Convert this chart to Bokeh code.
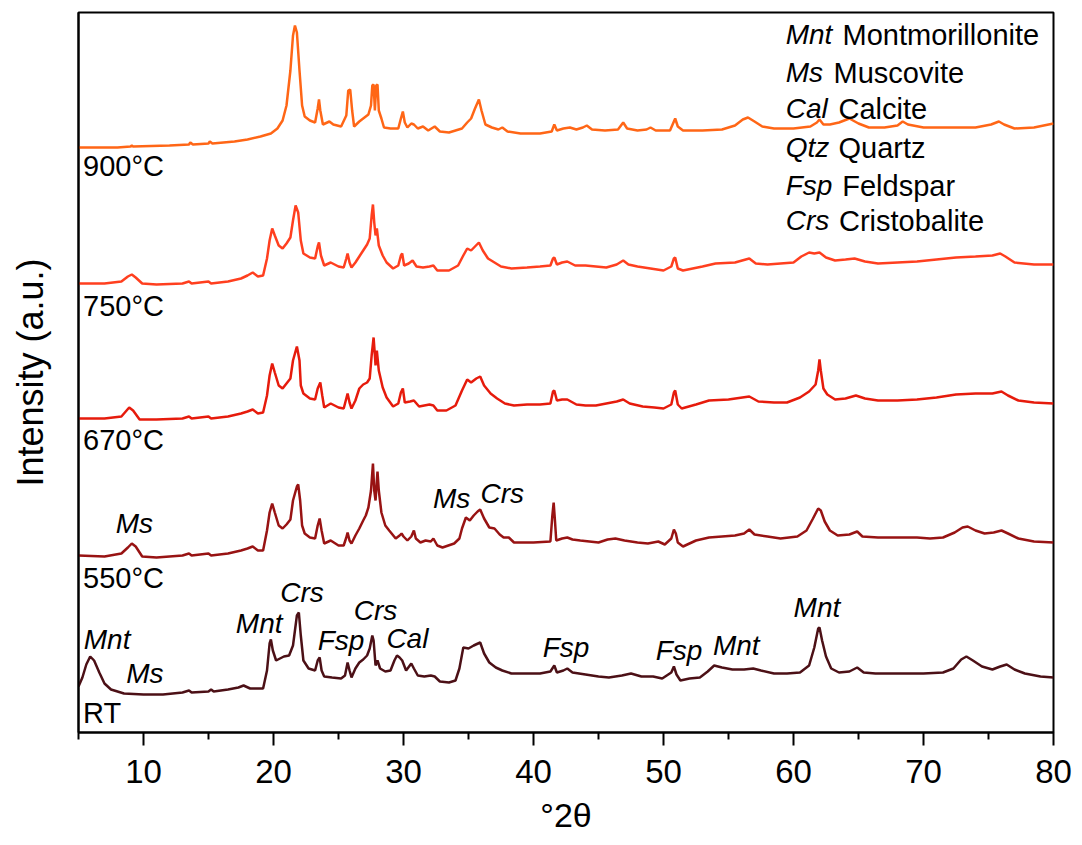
from bokeh.plotting import figure
from bokeh.models import Range1d, FixedTicker, Label
from bokeh.embed import file_html
from bokeh.resources import INLINE

# ---------------- data: (2theta, intensity a.u.) per sample ----------------
pattern_900 = [(5.0,3),(8.0,3),(9.0,4),(9.1,5),(9.2,4),(12,5),(13.5,6),(13.6,8),(13.8,6),(15.0,7),(15.1,9),(15.3,7),
 (17,9),(18,11),(19,14),(19.8,17),(20.3,22),(20.7,30),(21.0,45),(21.3,80),(21.5,115),(21.65,125),(21.8,118),(22.0,80),
 (22.2,45),(22.4,34),(22.8,30),(23.2,28),(23.4,42),(23.5,51),(23.6,40),(23.8,26),(24.3,29),(24.6,26),(25.2,24),(25.6,35),
 (25.75,60),(25.9,61),(26.05,40),(26.2,24),(26.6,29),(27.0,33),(27.3,36),(27.5,45),(27.6,65),(27.7,66),(27.8,40),(27.9,65),
 (28.0,66),(28.1,40),(28.3,32),(28.5,23),(29.0,22),(29.6,22),(29.8,32),(29.95,39),(30.1,28),(30.3,23),(30.6,27),(30.8,26),
 (31.1,22),(31.5,24),(31.9,20),(32.4,24),(32.8,19),(33.5,18),(34.5,22),(34.9,28),(35.2,32),(35.5,42),(35.8,51),(36.0,40),
 (36.3,26),(36.8,23),(37.3,21),(37.6,23),(38.0,19),(39.0,17),(40.5,17),(41.4,19),(41.6,26),(41.8,20),(42.3,22),(42.8,23),
 (43.3,21),(43.8,23),(44.1,25),(44.5,21),(45.5,20),(46.5,21),(46.9,28),(47.2,22),(48,20),(48.7,21),(49.0,23),(49.4,20),
 (50.5,20),(50.8,29),(50.9,32),(51.1,24),(51.5,20),(53,20),(54.5,21),(55.5,25),(56.1,31),(56.5,33),(57.0,29),(57.6,24),
 (58.5,22),(60,22),(61.3,24),(61.8,28),(62.0,31),(62.3,26),(62.8,26),(63.5,28),(64.3,32),(65.0,27),(65.8,23),(67,23),
 (68.0,25),(68.4,29),(68.8,26),(70,23),(72,23),(74,23),(75.2,26),(75.8,29),(76.2,26),(77,22),(78.5,23),(80,27)]

pattern_750 = [(5.0,2),(7,2),(8.3,4),(8.8,9),(9.1,11),(9.4,8),(9.9,2),(11,1),(13,2),(13.5,4),(13.7,2),(15.0,4),(15.2,2),
 (16.5,4),(17.5,7),(18.0,10),(18.4,13),(18.8,9),(19.2,10),(19.5,27),(19.7,45),(19.9,57),(20.1,50),(20.4,40),(20.7,37),
 (21.0,42),(21.3,48),(21.5,65),(21.7,80),(21.9,73),(22.1,45),(22.3,32),(22.8,28),(23.2,27),(23.4,39),(23.5,43),(23.65,30),
 (23.9,20),(24.4,23),(25.0,19),(25.4,18),(25.6,27),(25.7,32),(25.85,23),(26.0,18),(26.3,23),(26.6,29),(26.9,35),(27.2,41),
 (27.4,47),(27.55,70),(27.65,81),(27.75,63),(27.85,50),(27.95,57),(28.1,40),(28.4,30),(28.7,23),(29.2,17),(29.6,20),
 (29.8,30),(29.9,32),(30.05,20),(30.4,22),(30.7,25),(31.0,19),(31.5,18),(32.0,19),(32.3,20),(32.6,15),(33.5,15),(34.2,20),
 (34.6,30),(34.9,37),(35.2,35),(35.5,39),(35.8,43),(36.1,35),(36.5,27),(37.0,23),(37.5,19),(38.3,17),(39.5,18),(40.5,19),
 (41.3,20),(41.5,27),(41.6,28),(41.8,21),(42.2,23),(42.6,24),(43.2,20),(44.0,20),(44.8,19),(45.6,18),(46.4,21),(46.9,25),
 (47.3,21),(48.0,19),(49.0,17),(50.0,15),(50.6,19),(50.8,27),(50.9,28),(51.1,17),(51.5,15),(53.0,19),(54.0,22),(55.5,23),
 (56.6,27),(57.1,22),(58.0,21),(59.0,22),(60.0,23),(60.6,29),(61.2,33),(61.6,32),(62.0,33),(62.5,28),(63.2,25),(64.0,26),
 (64.7,27),(65.5,24),(66.5,22),(68,23),(69.5,24),(71,26),(72.5,28),(74,29),(75.3,30),(75.9,32),(76.3,29),(77,23),(78.5,21),(80,21)]

pattern_670 = [(5.0,2),(7,2),(8.3,4),(8.7,10),(8.9,13),(9.2,10),(9.7,1),(11,1),(13,2),(13.5,4),(13.7,2),(15.0,4),(15.2,2),
 (16.5,4),(17.5,7),(18.0,9),(18.4,11),(18.8,7),(19.2,8),(19.5,25),(19.7,45),(19.9,57),(20.1,48),(20.4,35),(20.7,32),
 (21.0,37),(21.3,42),(21.5,60),(21.8,74),(22.0,60),(22.1,35),(22.3,27),(22.8,22),(23.2,21),(23.4,32),(23.6,38),(23.75,25),
 (23.9,13),(24.4,17),(25.0,13),(25.4,12),(25.6,22),(25.7,27),(25.85,18),(26.0,12),(26.3,20),(26.6,32),(26.9,36),(27.2,38),
 (27.4,42),(27.55,65),(27.7,83),(27.8,65),(27.85,55),(27.95,70),(28.1,50),(28.4,33),(28.7,23),(29.2,14),(29.6,17),
 (29.8,28),(29.95,32),(30.1,18),(30.5,19),(30.8,20),(31.2,14),(31.6,15),(32.0,16),(32.3,15),(32.6,10),(33.3,10),(34.0,15),
 (34.5,30),(34.9,41),(35.2,38),(35.6,42),(35.9,44),(36.2,35),(36.7,27),(37.2,22),(37.8,17),(38.5,15),(39.5,16),(40.5,16),
 (41.3,17),(41.5,29),(41.6,30),(41.8,20),(42.2,21),(42.6,21),(43.3,16),(44.0,15),(44.8,15),(45.6,17),(46.4,19),(46.9,21),
 (47.4,17),(48.4,14),(49.3,13),(50.0,12),(50.6,16),(50.8,28),(50.9,30),(51.1,16),(51.4,12),(52.5,16),(53.5,20),(55.0,21),
 (56.6,24),(57.3,19),(58.5,18),(59.5,18),(60.5,23),(61.2,29),(61.7,36),(61.9,50),(62.0,61),(62.1,50),(62.3,32),(62.6,26),
 (63.2,21),(64.0,22),(64.8,25),(65.5,22),(66.5,20),(68,20),(69.5,21),(71,23),(72.5,26),(74,27),(75.3,27),(76.0,29),
 (76.5,25),(77.3,20),(78.5,18),(80,17)]

pattern_550 = [(5.0,3),(7,2),(8.3,5),(8.8,11),(9.1,15),(9.4,12),(9.9,2),(11,1),(13,3),(13.5,5),(13.7,3),(15.0,5),(15.2,3),
 (16.5,5),(17.5,8),(18.0,10),(18.4,12),(18.8,8),(19.2,8),(19.5,28),(19.7,46),(19.9,55),(20.1,46),(20.4,33),(20.7,30),
 (21.0,34),(21.3,39),(21.5,58),(21.8,72),(21.9,74),(22.05,58),(22.2,33),(22.4,25),(22.8,21),(23.2,20),(23.4,33),(23.55,40),
 (23.7,28),(23.9,15),(24.4,18),(25.0,13),(25.4,13),(25.6,21),(25.7,26),(25.85,18),(26.0,15),(26.3,23),(26.6,30),(26.9,38),
 (27.1,43),(27.3,51),(27.5,68),(27.65,95),(27.75,68),(27.85,58),(27.95,78),(28.0,87),(28.1,68),(28.3,46),(28.6,33),
 (28.9,28),(29.4,20),(29.7,23),(29.85,25),(30.0,22),(30.3,18),(30.6,22),(30.8,28),(30.95,20),(31.3,16),(31.7,18),(32.1,17),
 (32.3,20),(32.6,13),(33.0,11),(33.9,15),(34.3,20),(34.5,30),(34.8,41),(35.1,38),(35.4,43),(35.7,47),(35.9,49),(36.2,40),
 (36.6,31),(37.0,30),(37.4,24),(37.7,21),(38.1,21),(38.5,16),(40.0,16),(41.3,17),(41.45,43),(41.55,56),(41.65,38),
 (41.75,18),(42.2,20),(42.6,21),(43.0,19),(43.6,18),(44.3,17),(45.0,16),(45.7,19),(46.3,20),(47.0,18),(48.0,16),(48.8,15),
 (49.6,17),(50.1,14),(50.6,20),(50.8,29),(50.95,25),(51.1,16),(51.5,12),(52.5,18),(53.5,21),(54.5,22),(55.5,23),(56.2,25),
 (56.6,29),(57.0,24),(58.0,22),(59.0,20),(60.3,22),(61.0,28),(61.5,40),(61.9,50),(62.1,48),(62.4,37),(62.8,28),(63.4,23),
 (64.3,24),(64.9,27),(65.3,22),(66.5,21),(68,21),(69.5,21),(70.5,20),(71.5,21),(72.4,26),(73.0,31),(73.4,32),(74.0,28),
 (74.7,25),(75.4,26),(76.0,28),(76.5,25),(77.3,20),(78.5,17),(80,16)]

pattern_rt = [(5.0,10),(5.3,19),(5.6,32),(5.9,40),(6.2,36),(6.6,24),(7.0,13),(7.5,7),(8.5,3),(10,2),(11.5,2),(13,4),(13.5,6),
 (13.7,4),(15.0,5),(15.2,7),(15.4,5),(16.5,7),(17.3,9),(17.7,11),(18.2,8),(19.2,8),(19.5,26),(19.7,53),(19.8,57),(19.95,46),
 (20.2,36),(20.5,38),(20.8,40),(21.2,41),(21.5,51),(21.8,81),(21.95,84),(22.1,61),(22.3,36),(22.7,28),(23.2,26),(23.4,36),
 (23.55,39),(23.7,26),(23.9,20),(24.5,19),(25.2,18),(25.5,21),(25.7,34),(25.85,26),(26.0,19),(26.3,28),(26.6,34),(26.9,37),
 (27.2,41),(27.4,48),(27.6,61),(27.7,56),(27.85,31),(28.0,36),(28.2,28),(28.6,25),(29.0,26),(29.3,36),(29.5,41),(29.7,39),
 (29.9,36),(30.2,26),(30.6,33),(30.8,28),(31.1,21),(31.6,20),(32.1,21),(32.4,20),(32.8,15),(33.5,14),(34.0,16),(34.3,28),
 (34.6,49),(35.0,48),(35.4,51),(35.9,54),(36.2,43),(36.6,34),(37.1,29),(37.6,26),(38.3,23),(39.5,23),(40.5,23),(41.3,25),
 (41.6,31),(41.8,24),(42.3,26),(42.6,28),(43.0,24),(44.0,22),(45.0,20),(45.8,19),(46.8,21),(47.5,23),(48.3,20),(49.2,20),
 (49.9,18),(50.6,24),(50.8,30),(51.0,22),(51.3,16),(52.0,18),(52.8,19),(53.4,25),(53.9,31),(54.5,29),(55.3,27),(56.2,27),
 (56.9,28),(57.5,26),(58.5,23),(59.5,23),(60.5,24),(61.2,31),(61.6,49),(61.9,68),(62.0,69),(62.2,56),(62.5,40),(62.9,28),
 (63.5,24),(64.3,25),(64.9,29),(65.4,24),(66.3,23),(68,23),(70,23),(71.5,24),(72.3,28),(72.9,37),(73.3,40),(73.8,36),
 (74.5,30),(75.3,27),(75.9,30),(76.4,32),(77.0,27),(77.8,23),(79,20),(80,19)]

samples = ["900°C", "750°C", "670°C", "550°C", "RT"]
patterns = [pattern_900, pattern_750, pattern_670, pattern_550, pattern_rt]
offsets = [582, 447, 312, 174, 36]
colors = ["#FF6616", "#FF3F1F", "#E61B0C", "#981313", "#4C1016"]

x_ticks = [10, 20, 30, 40, 50, 60, 70, 80]
minor_ticks = [5, 15, 25, 35, 45, 55, 65, 75]

phase_abbr = ["Mnt", "Ms", "Cal", "Qtz", "Fsp", "Crs"]
phase_name = ["Montmorillonite", "Muscovite", "Calcite", "Quartz", "Feldspar", "Cristobalite"]

# peak annotations: (label, 2theta, height)
peak_labels_550 = [("Ms", 9.3, 209), ("Ms", 33.7, 234), ("Crs", 37.6, 239)]
peak_labels_rt = [("Mnt", 7.2, 93), ("Ms", 10.1, 59), ("Mnt", 18.9, 109), ("Crs", 22.2, 140), ("Fsp", 25.2, 92),
                  ("Crs", 27.85, 122), ("Cal", 30.3, 94), ("Fsp", 42.5, 85), ("Fsp", 51.2, 82), ("Mnt", 55.6, 87),
                  ("Mnt", 61.8, 125)]

FONT = "Liberation Sans"

p = figure(width=1082, height=845, output_backend="svg", toolbar_location=None,
           x_range=Range1d(5, 80), y_range=Range1d(0, 720),
           min_border_left=78, min_border_right=29, min_border_top=12, min_border_bottom=113)
p.background_fill_color = "white"
p.border_fill_color = "white"
p.grid.visible = False
p.outline_line_color = "black"
p.outline_line_width = 2

for pat, off, col in zip(patterns, offsets, colors):
    xs = [a for a, b in pat]
    ys = [b + off for a, b in pat]
    p.line(xs, ys, line_color=col, line_width=2.5)

# x axis
ax = p.xaxis[0]
ax.ticker = FixedTicker(ticks=x_ticks, minor_ticks=minor_ticks)
ax.axis_line_width = 2
ax.major_tick_line_width = 2
ax.minor_tick_line_width = 2
ax.major_tick_in = 0
ax.major_tick_out = 13
ax.minor_tick_in = 0
ax.minor_tick_out = 7
ax.major_label_text_font = FONT
ax.major_label_text_font_size = "33px"
ax.major_label_text_color = "black"
ax.major_label_standoff = 14
ax.axis_label = "°2θ"
ax.axis_label_text_font = FONT
ax.axis_label_text_font_size = "34px"
ax.axis_label_text_font_style = "normal"
ax.axis_label_text_color = "black"
ax.axis_label_standoff = 10

ay = p.yaxis[0]
ay.ticker = FixedTicker(ticks=[])
ay.axis_line_width = 2
ay.major_tick_line_color = None
ay.minor_tick_line_color = None
ay.major_label_text_font_size = "0px"
ay.axis_label = "Intensity (a.u.)"
ay.axis_label_text_font = FONT
ay.axis_label_text_font_size = "36px"
ay.axis_label_text_font_style = "normal"
ay.axis_label_text_color = "black"
ay.axis_label_standoff = 28

# sample labels
sample_y = [567, 427, 293, 155, 20]
for s, yy in zip(samples, sample_y):
    p.add_layout(Label(x=5.35, y=yy, text=s, text_font=FONT, text_font_size="29px",
                       text_baseline="middle", text_color="black"))

# phase legend
legend_y = [698, 660, 624, 585, 547, 512]
name_x = [63.77, 63.08, 63.46, 63.46, 63.75, 63.5]
for ab, nm, yy, nx in zip(phase_abbr, phase_name, legend_y, name_x):
    p.add_layout(Label(x=59.4, y=yy, text=ab, text_font=FONT, text_font_size="28px",
                       text_font_style="italic", text_baseline="middle", text_color="black"))
    p.add_layout(Label(x=nx, y=yy, text=nm, text_font=FONT, text_font_size="29px",
                       text_baseline="middle", text_color="black"))

for lab, xx, yy in peak_labels_550 + peak_labels_rt:
    p.add_layout(Label(x=xx, y=yy, text=lab, text_font=FONT, text_font_size="28px",
                       text_font_style="italic", text_align="center", text_baseline="middle",
                       text_color="black"))

open("out.html", "w").write(file_html(p, INLINE))
